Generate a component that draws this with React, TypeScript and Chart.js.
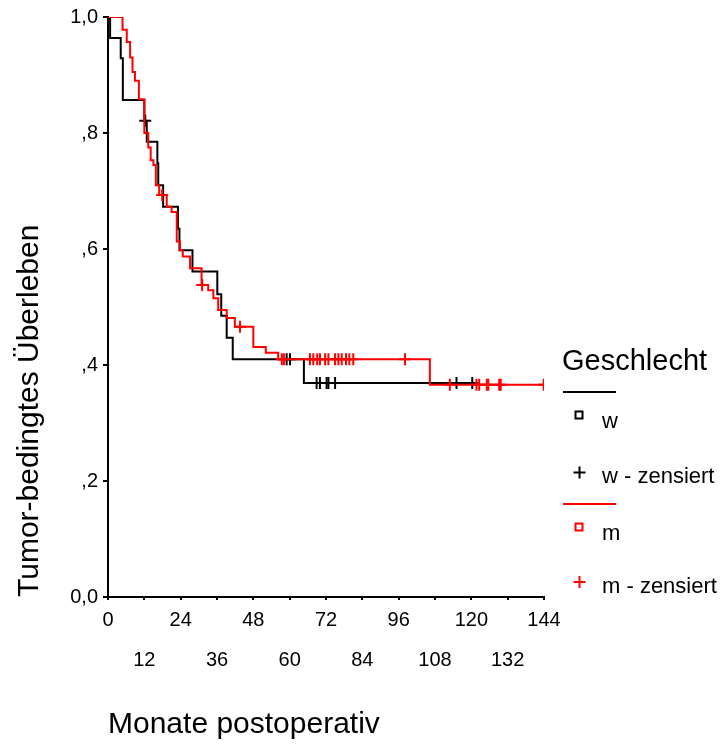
import React, { useEffect, useRef } from "react";
import { Chart, registerables } from "chart.js";

Chart.register(...registerables);

const FONT = '"Liberation Sans", Arial, Helvetica, sans-serif';

// Axis labels
const xTitle = "Monate postoperativ";
const yTitle = "Tumor-bedingtes Überleben";
const yTickLabels = ["0,0", ",2", ",4", ",6", ",8", "1,0"];
const legendTitle = "Geschlecht";
const legendLabels = ["w", "w - zensiert", "m", "m - zensiert"];

// w (female): event times (months) and survival after each step
const wTimes = [0, 0.7, 4.2, 4.9, 12.0, 12.8, 16.3, 16.6, 18.2, 23.1, 23.6, 27.9, 36.1, 37.4, 39.2, 41.2, 64.7];
const wSurv = [1.0, 0.964, 0.929, 0.857, 0.821, 0.785, 0.748, 0.71, 0.673, 0.635, 0.598, 0.561, 0.522, 0.485, 0.447, 0.41, 0.369];
const wCensored = [12.3, 59.0, 60.1, 68.9, 70.0, 72.2, 72.8, 75.0, 115.1, 120.3];

// m (male): event times (months) and survival after each step
const mTimes = [0, 4.8, 6.2, 7.3, 8.1, 8.9, 10.2, 12.0, 13.3, 14.1, 15.0, 15.8, 16.9, 19.4, 21.0, 22.7, 23.8, 24.7, 27.1, 30.9, 33.1, 34.8, 36.4, 39.2, 41.9, 48.0, 52.1, 56.2, 106.3];
const mSurv = [1.0, 0.978, 0.957, 0.93, 0.905, 0.89, 0.858, 0.8, 0.775, 0.753, 0.745, 0.71, 0.693, 0.673, 0.664, 0.613, 0.598, 0.587, 0.567, 0.538, 0.529, 0.515, 0.495, 0.481, 0.466, 0.431, 0.421, 0.41, 0.366];
const mCensored = [17.9, 31.1, 43.6, 57.4, 58.1, 66.7, 67.8, 69.1, 70.0, 71.7, 72.8, 75.0, 76.1, 77.2, 78.6, 79.7, 81.0, 98.1, 112.9, 121.7, 122.6, 125.1, 125.6, 129.2, 129.7, 143.9];

const BLACK = "#000000";
const RED = "#ff0000";

function survivalAt(times: number[], surv: number[], t: number): number {
  let s = surv[0];
  for (let i = 0; i < times.length; i++) {
    if (times[i] <= t) s = surv[i];
  }
  return s;
}

function stepLine(times: number[], surv: number[], censored: number[]) {
  const all = Array.from(new Set([...times, ...censored])).sort((a, b) => a - b);
  return all.map((t) => ({ x: t, y: survivalAt(times, surv, t) }));
}

function censorPoints(times: number[], surv: number[], censored: number[]) {
  return censored.map((t) => ({ x: t, y: survivalAt(times, surv, t) }));
}

const legendPlugin = {
  id: "kmLegend",
  afterDraw(chart: any) {
    const ctx = chart.ctx as CanvasRenderingContext2D;
    ctx.save();
    ctx.fillStyle = BLACK;
    ctx.textAlign = "left";
    ctx.textBaseline = "alphabetic";
    ctx.font = `29px ${FONT}`;
    ctx.fillText(legendTitle, 562, 370);

    const drawLine = (y: number, color: string) => {
      ctx.strokeStyle = color;
      ctx.lineWidth = 2;
      ctx.beginPath();
      ctx.moveTo(563, y);
      ctx.lineTo(616, y);
      ctx.stroke();
    };
    const drawSquare = (cx: number, cy: number, color: string) => {
      ctx.strokeStyle = color;
      ctx.lineWidth = 2;
      ctx.strokeRect(cx - 3.5, cy - 3.5, 7, 7);
    };
    const drawPlus = (cx: number, cy: number, color: string) => {
      ctx.strokeStyle = color;
      ctx.lineWidth = 2;
      ctx.beginPath();
      ctx.moveTo(cx - 6, cy);
      ctx.lineTo(cx + 6, cy);
      ctx.moveTo(cx, cy - 6);
      ctx.lineTo(cx, cy + 6);
      ctx.stroke();
    };

    ctx.font = `22px ${FONT}`;
    drawLine(392, BLACK);
    drawSquare(579, 415, BLACK);
    ctx.fillStyle = BLACK;
    ctx.fillText(legendLabels[0], 602, 428);
    drawPlus(579.5, 472.5, BLACK);
    ctx.fillText(legendLabels[1], 602, 483);

    drawLine(504, RED);
    drawSquare(579, 527, RED);
    ctx.fillText(legendLabels[2], 602, 540);
    drawPlus(579.5, 582, RED);
    ctx.fillText(legendLabels[3], 602, 593);
    ctx.restore();
  },
};

export default function App() {
  const canvasRef = useRef<HTMLCanvasElement | null>(null);

  useEffect(() => {
    const canvas = canvasRef.current;
    if (!canvas) return;
    const chart = new Chart(canvas, {
      type: "line",
      data: {
        datasets: [
          {
            label: "m",
            data: stepLine(mTimes, mSurv, mCensored),
            borderColor: RED,
            borderWidth: 2,
            stepped: "before",
            pointRadius: 0,
            fill: false,
            order: 1,
          },
          {
            label: "m - zensiert",
            data: censorPoints(mTimes, mSurv, mCensored),
            showLine: false,
            pointStyle: "cross",
            pointRadius: 6,
            pointBorderWidth: 2,
            borderColor: RED,
            pointBorderColor: RED,
            order: 0,
          },
          {
            label: "w",
            data: stepLine(wTimes, wSurv, wCensored),
            borderColor: BLACK,
            borderWidth: 2,
            stepped: "before",
            pointRadius: 0,
            fill: false,
            order: 3,
          },
          {
            label: "w - zensiert",
            data: censorPoints(wTimes, wSurv, wCensored),
            showLine: false,
            pointStyle: "cross",
            pointRadius: 6,
            pointBorderWidth: 2,
            borderColor: BLACK,
            pointBorderColor: BLACK,
            order: 2,
          },
        ],
      },
      options: {
        responsive: false,
        animation: false,
        layout: { padding: { left: 0, top: 17, right: 180, bottom: 0 } },
        plugins: {
          legend: { display: false },
          tooltip: { enabled: false },
        },
        scales: {
          x: {
            type: "linear",
            min: 0,
            max: 144,
            ticks: {
              stepSize: 12,
              autoSkip: false,
              maxRotation: 0,
              minRotation: 0,
              color: BLACK,
              padding: 0,
              font: { family: FONT, size: 20, lineHeight: 2 },
              callback: (v: any) => {
                const n = Number(v);
                return Math.round(n / 12) % 2 === 0 ? String(n) : ["", String(n)];
              },
            },
            grid: { drawOnChartArea: false, drawTicks: true, tickLength: 3, color: BLACK, lineWidth: 2 },
            border: { display: true, color: BLACK, width: 2 },
            title: {
              display: true,
              text: xTitle,
              align: "start",
              color: BLACK,
              font: { family: FONT, size: 30, lineHeight: 1.2 },
              padding: { top: 0, bottom: 8 },
            },
            afterFit: (s: any) => {
              s.height = 154;
            },
          },
          y: {
            type: "linear",
            min: 0,
            max: 1,
            ticks: {
              stepSize: 0.2,
              color: BLACK,
              padding: 5,
              font: { family: FONT, size: 20, lineHeight: 1.2 },
              callback: (v: any) => yTickLabels[Math.round(Number(v) * 5)],
            },
            grid: { drawOnChartArea: false, drawTicks: true, tickLength: 5, color: BLACK, lineWidth: 2 },
            border: { display: true, color: BLACK, width: 2 },
            title: {
              display: true,
              text: yTitle,
              align: "start",
              color: BLACK,
              font: { family: FONT, size: 30, lineHeight: 1.2 },
              padding: { top: 12, bottom: 0 },
            },
            afterFit: (s: any) => {
              s.width = 108;
            },
          },
        },
      },
      plugins: [legendPlugin],
    } as any);
    return () => chart.destroy();
  }, []);

  return (
    <div style={{ position: "fixed", left: 0, top: 0, width: 724, height: 751, background: "#fff" }}>
      <canvas ref={canvasRef} width={724} height={751} style={{ display: "block" }} />
    </div>
  );
}
